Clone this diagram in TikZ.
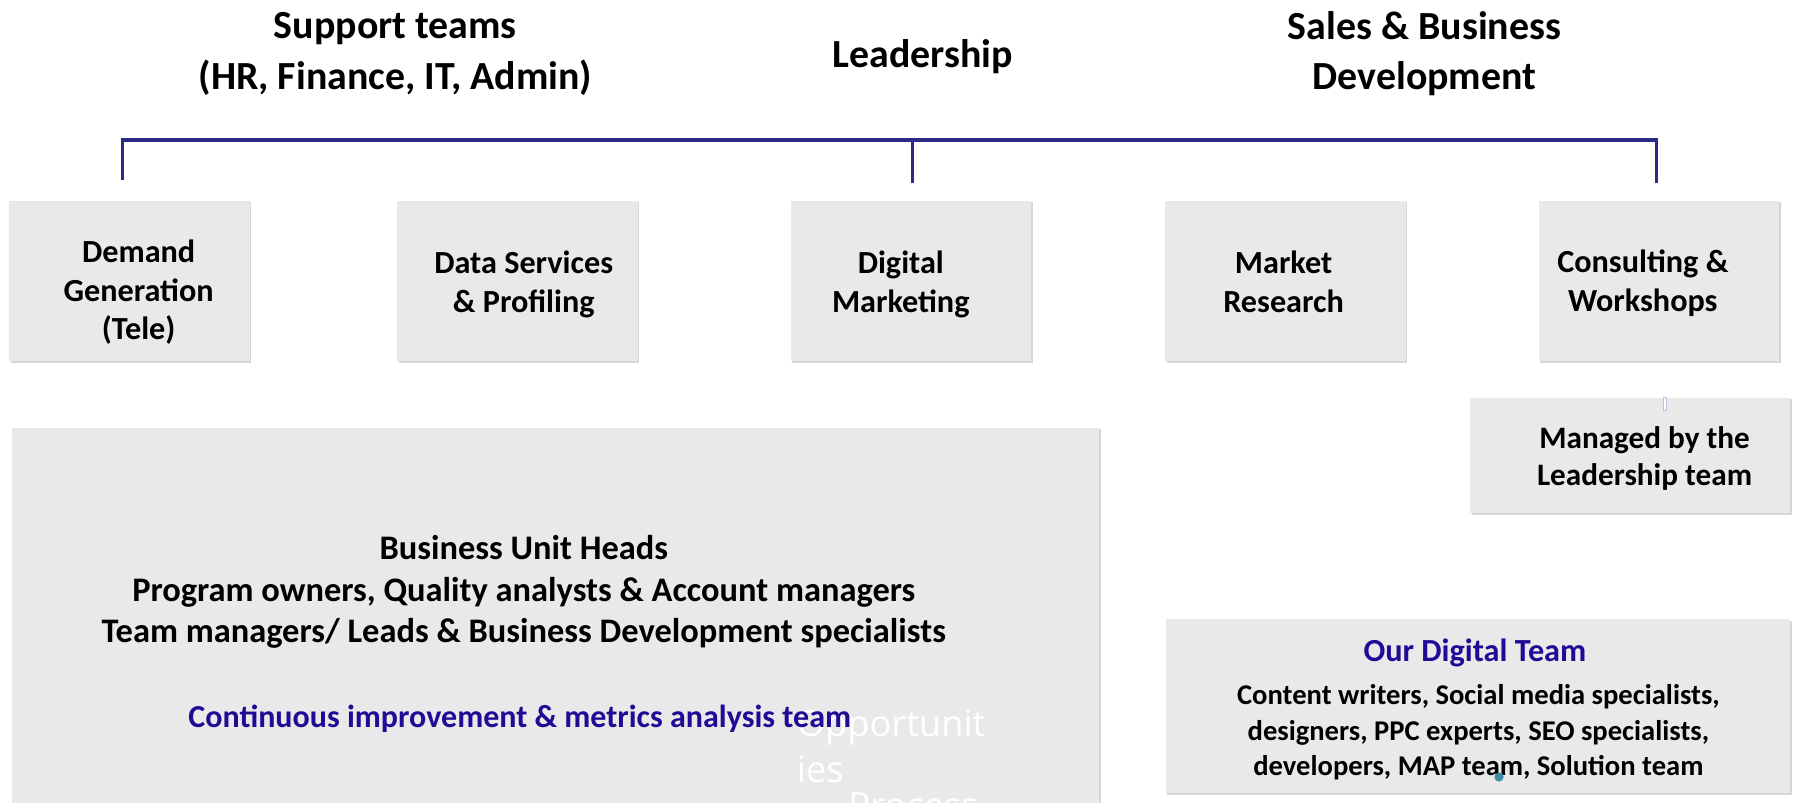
\documentclass[tikz,border=0pt]{standalone}
\usepackage{fontspec}
\setmainfont{Carlito}
\newfontfamily\ghostfont{Open Sans}
\usetikzlibrary{shadows}

\definecolor{busblue}{RGB}{43,42,135}
\definecolor{teamblue}{RGB}{35,10,150}
\definecolor{boxgray}{RGB}{233,233,233}
\definecolor{dotteal}{RGB}{60,140,165}
\definecolor{stubline}{RGB}{190,190,225}

\begin{document}
\begin{tikzpicture}[x=0.02cm,y=-0.02cm,
	head/.style={align=center,font=\fontsize{19.8}{25}\selectfont\bfseries},
	panel/.style={fill=boxgray,inner sep=0pt,drop shadow={shadow xshift=0.8pt,shadow yshift=-0.8pt,fill=black!16,opacity=1}},
	unit/.style={panel,minimum width=4.2cm,minimum height=2.8cm},
	unittext/.style={align=center,font=\fontsize{16}{19.3}\selectfont\bfseries},
	ghost/.style={anchor=base west,inner sep=0pt,text=white,font=\ghostfont\fontsize{18}{22}\selectfont},
	bus/.style={color=busblue,line width=2pt},
	drop/.style={color=busblue,line width=1.5pt}]

	\clip (0,0) rectangle (1568,700);

	% headings
	\node[head] (support) at (345,47) {Support teams\\(HR, Finance, IT, Admin)};
	\node[head] (lead) at (805,49) {Leadership};
	\node[head] (sales) at (1243,47) {Sales \& Business\\Development};

	% service lines
	\node[unit] (demand) at (113,245) {};
	\node[unit] (data) at (451.5,245) {};
	\node[unit] (digital) at (795,245) {};
	\node[unit] (market) at (1121.5,245) {};
	\node[unit] (consult) at (1447.5,245) {};
	\node[unittext] (demandtext) at ([shift={(8,10)}]demand) {Demand\\Generation\\(Tele)};
	\node[unittext] (datatext) at ([shift={(5.5,3)}]data) {Data Services\\\& Profiling};
	\node[unittext] (digitaltext) at ([shift={(-9,3)}]digital) {Digital\\Marketing};
	\node[unittext] (markettext) at ([shift={(-1.5,1)}]market) {Market\\Research};
	\node[unittext] (consulttext) at ([shift={(-14,2)}]consult) {Consulting \&\\Workshops};

	% bus over the service lines
	\coordinate (busL) at (107,122);
	\coordinate (busM) at (796,122);
	\coordinate (busR) at (1445,122);
	\coordinate (endL) at (107,157);
	\coordinate (endM) at (796,160);
	\coordinate (endR) at (1445,160);
	\draw[drop] (busL) -- (endL);
	\draw[drop] (busM) -- (endM);
	\draw[drop] (busR) -- (endR);
	\draw[bus] ([xshift=-0.75pt]busL) -- ([xshift=0.75pt]busR);

	\node[panel,minimum width=5.58cm,minimum height=2.02cm] (managed) at (1422.5,397.5) {};
	\node[align=center,font=\fontsize{15.5}{18.2}\selectfont\bfseries] (managedtext) at ([shift={(12.5,2.5)}]managed) {Managed by the\\Leadership team};
	\draw[stubline,fill=white,line width=0.4pt] (1451,347) rectangle (1454,358);

	% business units
	\node[panel,minimum width=18.98cm,minimum height=6.94cm] (units) at (484.5,546.5) {};
	\node[ghost] (opp1) at (695,643) {Opportunit};
	\node[ghost] (opp2) at (695,683) {ies};
	\node[ghost] (opp3) at (740,714) {Process};
	\node[align=center,font=\fontsize{17.1}{20.7}\selectfont\bfseries] (roles) at (457,516.5) {Business Unit Heads\\Program owners, Quality analysts \& Account managers\\Team managers/ Leads \& Business Development specialists};
	\node[text=teamblue,font=\fontsize{15.9}{19}\selectfont\bfseries] (metrics) at (453.5,627) {Continuous improvement \& metrics analysis team};

	% digital team
	\node[panel,minimum width=10.9cm,minimum height=3.04cm] (team) at (1289.5,616) {};
	\node[text=teamblue,font=\fontsize{16}{19}\selectfont\bfseries] (teamtitle) at (1287,570) {Our Digital Team};
	\node[align=center,font=\fontsize{14.2}{17.6}\selectfont\bfseries] (teamlist) at (1290,639) {Content writers, Social media specialists,\\designers, PPC experts, SEO specialists,\\developers, MAP team, Solution team};
	\fill[dotteal] (1308,678) circle (0.08cm);

\end{tikzpicture}
\end{document}
